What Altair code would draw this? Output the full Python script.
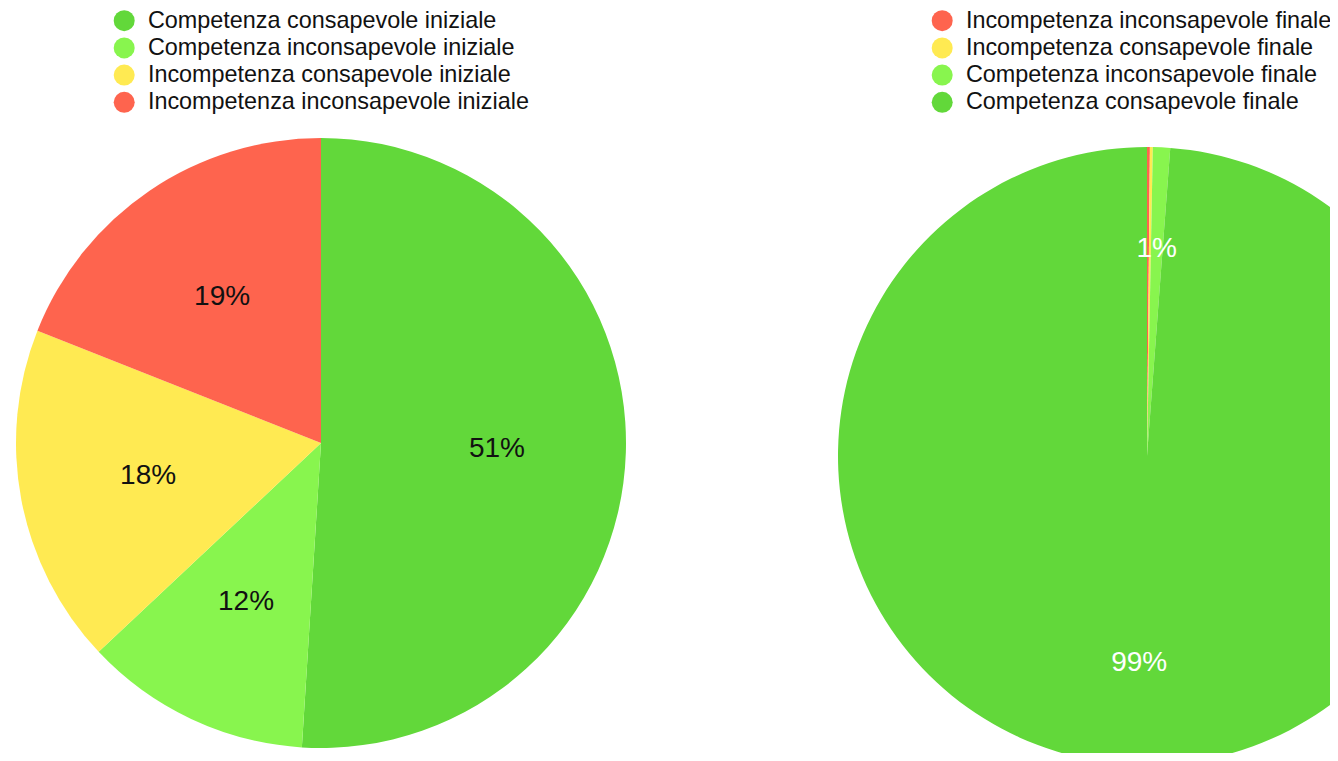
import altair as alt
import pandas as pd

# Left pie (iniziale)
cats_ini = [
    "Competenza consapevole iniziale",
    "Competenza inconsapevole iniziale",
    "Incompetenza consapevole iniziale",
    "Incompetenza inconsapevole iniziale",
]
vals_ini = [51, 12, 18, 19]
labels_ini = ["51%", "12%", "18%", "19%"]
colors_ini = ["#62D83A", "#88F54E", "#FFEA52", "#FE644E"]

# Right pie (finale)
cats_fin = [
    "Incompetenza inconsapevole finale",
    "Incompetenza consapevole finale",
    "Competenza inconsapevole finale",
    "Competenza consapevole finale",
]
vals_fin = [0.15, 0.15, 0.9, 98.8]
labels_fin = ["", "", "1%", "99%"]
colors_fin = ["#FE644E", "#FFEA52", "#88F54E", "#62D83A"]

FONT = "Liberation Sans"

df_ini = pd.DataFrame({"cat": cats_ini, "value": vals_ini, "label": labels_ini,
                       "ord": list(range(len(cats_ini)))})
df_fin = pd.DataFrame({"cat": cats_fin, "value": vals_fin, "label": labels_fin,
                       "ord": list(range(len(cats_fin)))})


def legend(x, y):
    return alt.Legend(
        title=None, orient="none", legendX=x, legendY=y, padding=0,
        symbolType="circle", symbolSize=441, symbolStrokeWidth=0,
        labelFontSize=23.4, labelFont=FONT, labelColor="#111111",
        labelOffset=12, labelLimit=600, rowPadding=2.2,
    )


def pie(df, cats, colors, cx, cy, r, rl, tcolor, lx, ly):
    base = alt.Chart(df)
    arc = base.mark_arc(outerRadius=r, stroke=None).encode(
        x=alt.value(cx), y=alt.value(cy),
        theta=alt.Theta("value:Q", stack=True),
        color=alt.Color("cat:N", scale=alt.Scale(domain=cats, range=colors),
                        sort=cats, legend=legend(lx, ly)),
        order=alt.Order("ord:Q"),
    )
    txt = base.mark_text(radius=rl, fontSize=28, font=FONT, color=tcolor).encode(
        x=alt.value(cx), y=alt.value(cy),
        theta=alt.Theta("value:Q", stack=True),
        order=alt.Order("ord:Q"),
        text="label:N",
    )
    return alt.layer(arc, txt)


left = pie(df_ini, cats_ini, colors_ini, 313, 435, 305, 176, "#111111", 104.5, 1)
right = pie(df_fin, cats_fin, colors_fin, 1139, 448, 309, 207, "#FFFFFF", 922.5, 1)

chart = alt.layer(left, right).resolve_scale(
    color="independent", theta="independent"
).properties(
    width=1322, height=745, padding=0,
    autosize=alt.AutoSizeParams(type="none"),
).configure_view(stroke=None)

chart.save("out.html", embed_options={"renderer": "svg", "actions": False})
